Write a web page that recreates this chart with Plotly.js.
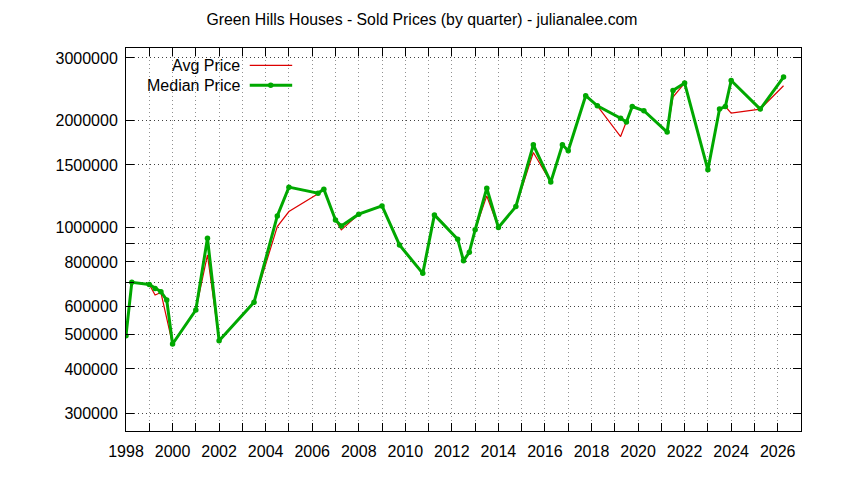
<!DOCTYPE html>
<html>
<head>
<meta charset="utf-8">
<script src="https://cdn.plot.ly/plotly-3.0.1.min.js"></script>
<style>
  html, body { margin: 0; padding: 0; background: #fff; }
  #chart { width: 844px; height: 480px; }
</style>
</head>
<body>
<div id="chart"></div>
<script>
// quarter positions (decimal year)
const quarters = [
    1998.0, 1998.25, 1999.0, 1999.25, 1999.5, 1999.75, 2000.0, 2001.0, 2001.5, 2002.0,
    2003.5, 2004.5, 2005.0, 2006.25, 2006.5, 2007.0, 2007.25, 2008.0, 2009.0, 2009.75,
    2010.75, 2011.25, 2012.25, 2012.5, 2012.75, 2013.0, 2013.5, 2014.0, 2014.75, 2015.5,
    2016.25, 2016.75, 2017.0, 2017.75, 2018.25, 2019.25, 2019.5, 2019.75, 2020.25, 2021.25,
    2021.5, 2022.0, 2023.0, 2023.5, 2023.75, 2024.0, 2025.25, 2026.25
];

const avgPrice = [
    496000, 701000, 691000, 646000, 656000, 550000, 470000, 586000, 837000, 480000,
    616000, 1006000, 1109000, 1245000, 1282000, 1050000, 985000, 1090000, 1150000, 893000,
    743000, 1085000, 927000, 806000, 852000, 985000, 1227000, 1000000, 1145000, 1626000,
    1342000, 1709000, 1644000, 2349000, 2200000, 1803000, 1980000, 2190000, 2131000, 1856000,
    2328000, 2550000, 1453000, 2154000, 2190000, 2099000, 2154000, 2506000
];

const medianPrice = [
    496000, 701000, 691000, 674000, 660000, 625000, 470000, 586000, 933000, 480000,
    616000, 1078000, 1299000, 1249000, 1282000, 1050000, 1010000, 1090000, 1150000, 893000,
    743000, 1085000, 927000, 806000, 852000, 985000, 1290000, 1000000, 1145000, 1709000,
    1342000, 1709000, 1644000, 2349000, 2200000, 2030000, 1980000, 2190000, 2131000, 1856000,
    2430000, 2550000, 1453000, 2154000, 2190000, 2593000, 2154000, 2651000
];

// axis ticks
const yearTicks = [];
for (let y = 1998; y <= 2027; y++) yearTicks.push(y);
const yearLabels = yearTicks.map(y => (y % 2 === 0 ? String(y) : ''));

const priceTicks = [300000, 400000, 500000, 600000, 700000, 800000, 900000, 1000000, 1500000, 2000000, 3000000];
const priceLabels = ['300000', '400000', '500000', '600000', '', '800000', '', '1000000', '1500000', '2000000', '3000000'];

const RED = '#dd0000';
const GREEN = '#00a800';
const FONT = 'Liberation Sans, Arial, sans-serif';

const data = [
    {
        type: 'scatter',
        mode: 'lines',
        name: 'Avg Price',
        x: quarters,
        y: avgPrice,
        line: { color: RED, width: 1.2 },
        showlegend: false
    },
    {
        type: 'scatter',
        mode: 'lines+markers',
        name: 'Median Price',
        x: quarters,
        y: medianPrice,
        line: { color: GREEN, width: 3 },
        marker: { color: GREEN, size: 5.5, symbol: 'circle' },
        showlegend: false
    }
];

// legend drawn by hand: text right-aligned, sample on the right (gnuplot style)
const legTextX = 0.1715;
const legRows = [0.9548, 0.9026];

const layout = {
    width: 844,
    height: 480,
    margin: { l: 125.5, r: 43, t: 48, b: 49, pad: 0 },
    paper_bgcolor: '#ffffff',
    plot_bgcolor: '#ffffff',
    font: { family: FONT, size: 16, color: '#000' },
    title: {
        text: 'Green Hills Houses - Sold Prices (by quarter) - julianalee.com',
        font: { family: FONT, size: 15.8, color: '#000' },
        xref: 'container', x: 0.5, xanchor: 'center',
        yref: 'container', y: 1 - 19 / 480, yanchor: 'middle'
    },
    xaxis: {
        range: [1998, 2027],
        tickmode: 'array',
        tickvals: yearTicks,
        ticktext: yearLabels,
        ticks: 'inside',
        ticklen: 8,
        tickcolor: '#000',
        showline: true,
        linecolor: '#000',
        linewidth: 1,
        mirror: 'allticks',
        showgrid: true,
        gridcolor: '#909090',
        griddash: '1px,3px',
        gridwidth: 1,
        zeroline: false,
        tickfont: { family: FONT, size: 16, color: '#000' },
        ticklabelstandoff: 6
    },
    yaxis: {
        type: 'log',
        range: [Math.log10(267500), Math.log10(3200000)],
        tickmode: 'array',
        tickvals: priceTicks,
        ticktext: priceLabels,
        ticks: 'inside',
        ticklen: 8,
        tickcolor: '#000',
        showline: true,
        linecolor: '#000',
        linewidth: 1,
        mirror: 'allticks',
        showgrid: true,
        gridcolor: '#404040',
        griddash: '1px,3px',
        gridwidth: 1,
        zeroline: false,
        tickfont: { family: FONT, size: 16, color: '#000' },
        ticklabelstandoff: 4
    },
    annotations: [
        {
            xref: 'paper', yref: 'paper', x: legTextX, y: legRows[0],
            xanchor: 'right', yanchor: 'middle', showarrow: false,
            text: 'Avg Price', font: { family: FONT, size: 16, color: '#000' }
        },
        {
            xref: 'paper', yref: 'paper', x: legTextX, y: legRows[1],
            xanchor: 'right', yanchor: 'middle', showarrow: false,
            text: 'Median Price', font: { family: FONT, size: 16, color: '#000' }
        }
    ],
    shapes: [
        {
            type: 'line', xref: 'paper', yref: 'paper',
            x0: 0.1833, x1: 0.2462, y0: legRows[0], y1: legRows[0],
            line: { color: RED, width: 1.2 }
        },
        {
            type: 'line', xref: 'paper', yref: 'paper',
            x0: 0.1833, x1: 0.2462, y0: legRows[1], y1: legRows[1],
            line: { color: GREEN, width: 3 }
        },
        {
            type: 'circle', xref: 'paper', yref: 'paper',
            xsizemode: 'pixel', ysizemode: 'pixel',
            xanchor: 0.2144, yanchor: legRows[1],
            x0: -2.75, x1: 2.75, y0: -2.75, y1: 2.75,
            fillcolor: GREEN, line: { color: GREEN, width: 0 }
        }
    ]
};

Plotly.newPlot('chart', data, layout, { displayModeBar: false, staticPlot: true });
</script>
</body>
</html>
